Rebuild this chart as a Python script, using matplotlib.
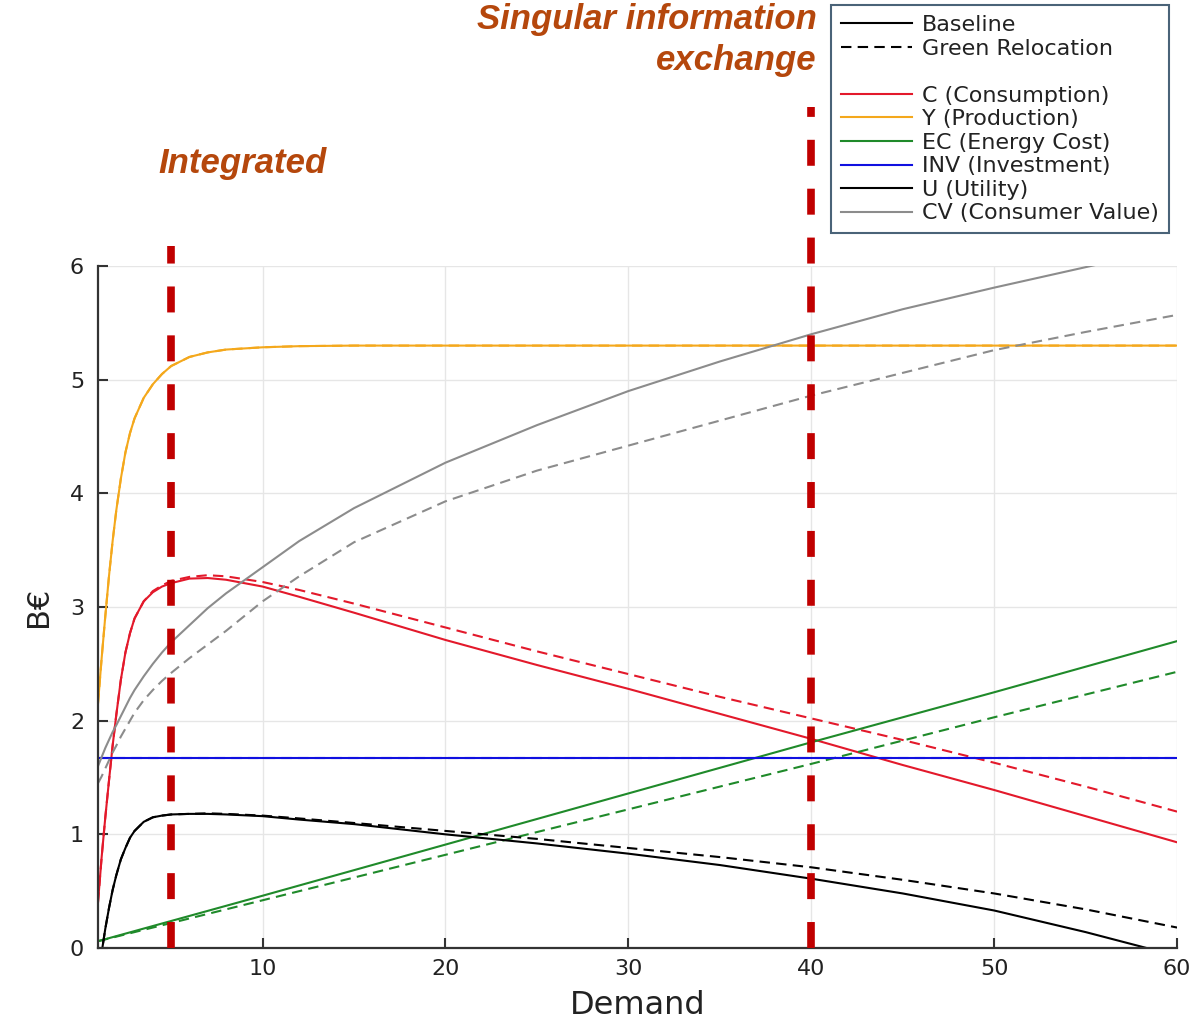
import matplotlib
matplotlib.use("Agg")
import matplotlib.pyplot as plt
from matplotlib.lines import Line2D

# ------------------------- data --------------------------------------
demand = [1, 1.2, 1.4, 1.6, 1.8, 2, 2.25, 2.5, 2.75, 3, 3.5, 4, 4.5, 5, 6, 7, 8,
          10, 12, 15, 20, 25, 30, 35, 40, 45, 50, 55, 60]

# baseline (solid)
c_base = [0.40, 0.80, 1.15, 1.47, 1.78, 2.05, 2.36, 2.60, 2.77, 2.90, 3.05, 3.13,
          3.18, 3.21, 3.25, 3.255, 3.24, 3.18, 3.09, 2.95, 2.71, 2.49, 2.28, 2.06,
          1.84, 1.61, 1.39, 1.16, 0.93]
y_base = [2.15, 2.55, 2.92, 3.27, 3.58, 3.85, 4.13, 4.36, 4.53, 4.66, 4.84, 4.96,
          5.05, 5.12, 5.20, 5.24, 5.265, 5.285, 5.295, 5.30, 5.30, 5.30, 5.30, 5.30,
          5.30, 5.30, 5.30, 5.30, 5.30]
u_base = [-0.25, -0.04, 0.17, 0.35, 0.51, 0.64, 0.78, 0.88, 0.97, 1.03, 1.11, 1.15,
          1.165, 1.175, 1.18, 1.18, 1.175, 1.16, 1.13, 1.09, 1.00, 0.92, 0.83, 0.73,
          0.61, 0.48, 0.33, 0.14, -0.07]
cv_base = [1.60, 1.68, 1.76, 1.83, 1.90, 1.96, 2.04, 2.12, 2.20, 2.27, 2.39, 2.50,
           2.60, 2.69, 2.84, 2.99, 3.12, 3.35, 3.58, 3.87, 4.27, 4.60, 4.90, 5.16,
           5.40, 5.62, 5.81, 5.99, 6.17]

# green relocation (dashed)
c_green = [0.40, 0.80, 1.15, 1.47, 1.78, 2.05, 2.36, 2.60, 2.77, 2.90, 3.05, 3.14,
           3.19, 3.23, 3.265, 3.28, 3.27, 3.22, 3.15, 3.03, 2.82, 2.61, 2.41, 2.21,
           2.02, 1.83, 1.63, 1.42, 1.20]
y_green = y_base
u_green = [-0.25, -0.04, 0.17, 0.35, 0.51, 0.64, 0.78, 0.88, 0.97, 1.03, 1.11, 1.15,
           1.165, 1.175, 1.18, 1.185, 1.18, 1.165, 1.14, 1.10, 1.03, 0.96, 0.88, 0.80,
           0.71, 0.60, 0.48, 0.34, 0.18]
cv_green = [1.45, 1.51, 1.58, 1.65, 1.72, 1.78, 1.86, 1.93, 2.00, 2.07, 2.18, 2.27,
            2.35, 2.42, 2.55, 2.67, 2.79, 3.05, 3.27, 3.57, 3.93, 4.20, 4.42, 4.64,
            4.86, 5.06, 5.26, 5.42, 5.57]

# linear series on a coarse grid
demand_lin = [1, 10, 20, 30, 40, 50, 60]
ec_base = [0.06, 0.46, 0.91, 1.36, 1.81, 2.25, 2.70]
ec_green = [0.06, 0.42, 0.82, 1.22, 1.62, 2.03, 2.43]
inv_base = [1.67, 1.67, 1.67, 1.67, 1.67, 1.67, 1.67]
inv_green = inv_base

# highlighted demand levels
marker_x = [5, 40]
marker_top = [6.18, 7.40]

# ------------------------- plot --------------------------------------
RED = "#e3192b"
ORANGE = "#f4a81c"
GREEN = "#1f8a2a"
BLUE = "#1010e0"
GRAY = "#8c8c8c"
BROWN = "#b5470c"
DASH = (5, 3)

fig = plt.figure(figsize=(11.95, 10.22), dpi=100)
ax = fig.add_axes([0.082, 0.0724, 0.903, 0.6673])

series = [
    (c_base, c_green, RED, demand),
    (y_base, y_green, ORANGE, demand),
    (ec_base, ec_green, GREEN, demand_lin),
    (inv_base, inv_green, BLUE, demand_lin),
    (u_base, u_green, "black", demand),
    (cv_base, cv_green, GRAY, demand),
]
for base, green, col, xs in series:
    ax.plot(xs, base, color=col, lw=1.5)
    ax.plot(xs, green, color=col, lw=1.5, dashes=DASH)

ax.vlines(marker_x, 0, marker_top, colors="#c00000", lw=5.5,
          linestyles=(0, (3.4, 3.0)), clip_on=False, zorder=5)

ax.set_xlim(1, 60)
ax.set_ylim(0, 6)
ax.set_xticks([10, 20, 30, 40, 50, 60])
ax.set_yticks([0, 1, 2, 3, 4, 5, 6])
ax.grid(True, color="#e6e6e6", lw=1)
ax.set_axisbelow(True)
for s in ["top", "right"]:
    ax.spines[s].set_visible(False)
for s in ["left", "bottom"]:
    ax.spines[s].set_color("#333333")
    ax.spines[s].set_linewidth(1.6)
ax.tick_params(direction="in", length=7, width=1.5, color="#333333",
               labelsize=16, labelcolor="#222222")
ax.tick_params(axis="y", pad=10)
ax.tick_params(axis="x", pad=8)
ax.set_xlabel("Demand", fontsize=23, color="#222222", labelpad=8)
ax.set_ylabel("B€", fontsize=22, color="#222222", labelpad=12)

# legend
handles = [
    Line2D([], [], color="black", lw=1.5),
    Line2D([], [], color="black", lw=1.5, dashes=DASH),
    Line2D([], [], color="none"),
    Line2D([], [], color=RED, lw=1.5),
    Line2D([], [], color=ORANGE, lw=1.5),
    Line2D([], [], color=GREEN, lw=1.5),
    Line2D([], [], color=BLUE, lw=1.5),
    Line2D([], [], color="black", lw=1.5),
    Line2D([], [], color=GRAY, lw=1.5),
]
labels = ["Baseline", "Green Relocation", " ", "C (Consumption)", "Y (Production)",
          "EC (Energy Cost)", "INV (Investment)", "U (Utility)", "CV (Consumer Value)"]
leg = fig.legend(handles, labels, loc="upper left",
                 bbox_to_anchor=(831 / 1195, 1 - 5 / 1022), borderaxespad=0,
                 fontsize=16, handlelength=3.2, handletextpad=0.45,
                 labelspacing=0.16, borderpad=0.45, fancybox=False, framealpha=1)
leg.get_frame().set_edgecolor("#4a6378")
leg.get_frame().set_linewidth(1.5)
for t in leg.get_texts():
    t.set_color("#222222")

# annotations
fig.text(817 / 1195, 1 - 40 / 1022, "Singular information\nexchange",
         ha="right", va="center", fontsize=25, fontweight="bold", fontstyle="italic",
         family="Liberation Sans", color=BROWN, linespacing=1.33)
fig.text(243 / 1195, 1 - 163 / 1022, "Integrated", ha="center", va="center",
         fontsize=25, fontweight="bold", fontstyle="italic",
         family="Liberation Sans", color=BROWN)

fig.savefig("out.png", dpi=100)
